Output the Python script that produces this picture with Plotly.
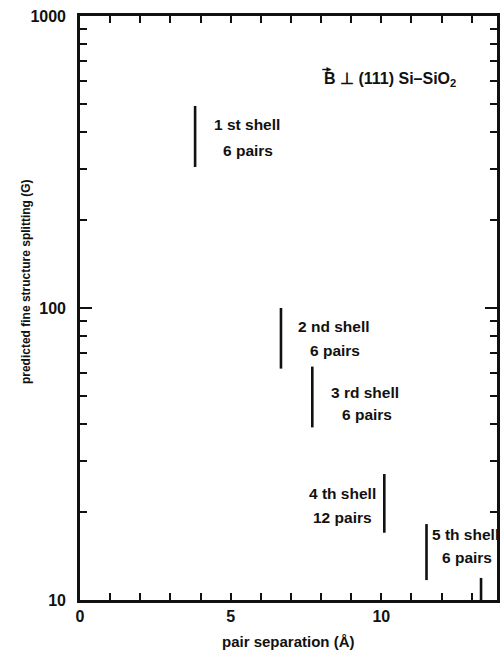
import plotly.graph_objects as go

# ---- data ----
shell_labels = ["1 st shell", "2 nd shell", "3 rd shell", "4 th shell", "5 th shell"]
pair_labels = ["6 pairs", "6 pairs", "6 pairs", "12 pairs", "6 pairs"]
separation_A = [3.82, 6.67, 7.71, 10.1, 11.5, 13.31]
split_min_G = [304, 62, 39, 17, 11.7, 10]
split_max_G = [492, 100, 63, 27, 18.2, 11.9]

y_major = [10, 100, 1000]
y_minor = [m * d for d in (10, 100) for m in range(2, 10)]

# label positions (x in Å, y in log10 G) – layout only
shell_lab_pos = [(4.38, 2.630), (7.18, 1.935), (8.27, 1.712), (7.55, 1.366), (11.63, 1.223)]
pair_lab_pos = [(4.68, 2.538), (7.58, 1.853), (8.63, 1.634), (7.68, 1.281), (11.96, 1.144)]

FONT = "Liberation Sans, Arial, Helvetica, sans-serif"
INK = "#111111"
LBL = 15.5

xs, ys = [], []
for x, lo, hi in zip(separation_A, split_min_G, split_max_G):
    xs += [x, x, None]
    ys += [lo, hi, None]

fig = go.Figure()
fig.add_trace(go.Scatter(x=xs, y=ys, mode="lines",
                         line=dict(color=INK, width=2.6),
                         hoverinfo="skip", showlegend=False, cliponaxis=False))

annotations = []
for (x, y), t in zip(shell_lab_pos, shell_labels):
    annotations.append(dict(x=x, y=y, xref="x", yref="y", text=t, showarrow=False,
                            xanchor="left", yanchor="middle",
                            font=dict(family=FONT, size=LBL, color=INK, weight="bold")))
for (x, y), t in zip(pair_lab_pos, pair_labels):
    annotations.append(dict(x=x, y=y, xref="x", yref="y", text=t, showarrow=False,
                            xanchor="left", yanchor="middle",
                            font=dict(family=FONT, size=LBL, color=INK, weight="bold")))
# title-like label inside plot
annotations.append(dict(x=8.04, y=2.781, xref="x", yref="y",
                        text="B \u22a5 (111) Si\u2013SiO<sub>2</sub>", showarrow=False,
                        xanchor="left", yanchor="middle",
                        font=dict(family=FONT, size=16, color=INK, weight="bold")))
# axis titles
annotations.append(dict(x=-0.131, y=0.545, xref="paper", yref="paper",
                        text="predicted fine structure splitting (G)", textangle=-90,
                        showarrow=False, xanchor="center", yanchor="middle",
                        font=dict(family=FONT, size=12, color=INK, weight="bold")))
annotations.append(dict(x=0.5, y=-0.087, xref="paper", yref="paper",
                        text="pair separation (\u00c5)", showarrow=False,
                        xanchor="center", yanchor="bottom", borderpad=0,
                        font=dict(family=FONT, size=15, color=INK, weight="bold")))

# small vector arrow over the "B" (paper coordinates)
def px_x(p):
    return (p - 80) / 420.0

def px_y(p):
    return (600 - p) / 584.0

ARROW_Y = 69.5
shapes = [
    dict(type="line", xref="paper", yref="paper",
         x0=px_x(324), x1=px_x(330), y0=px_y(ARROW_Y), y1=px_y(ARROW_Y),
         line=dict(color=INK, width=1.4)),
    dict(type="path", xref="paper", yref="paper",
         path=f"M {px_x(333)},{px_y(ARROW_Y)} L {px_x(328.5)},{px_y(ARROW_Y - 2.1)} "
              f"L {px_x(328.5)},{px_y(ARROW_Y + 2.1)} Z",
         fillcolor=INK, line=dict(color=INK, width=0.5)),
]

fig.update_layout(
    width=500, height=652,
    margin=dict(l=80, r=0, t=16, b=52),
    paper_bgcolor="white", plot_bgcolor="white",
    annotations=annotations, shapes=shapes,
    xaxis=dict(range=[0, 13.84], tickmode="array", tickvals=[0, 5, 10],
               ticks="inside", ticklen=7, tickwidth=1.5, tickcolor=INK,
               minor=dict(tickmode="linear", tick0=0, dtick=1, ticks="inside",
                          ticklen=7, tickwidth=1.5, tickcolor=INK),
               showline=True, linewidth=2.6, linecolor=INK, mirror="ticks",
               showgrid=False, zeroline=False, ticklabelstandoff=0,
               tickfont=dict(family=FONT, size=16, color=INK, weight="bold")),
    yaxis=dict(type="log", range=[1, 3], tickmode="array", tickvals=y_major,
               ticktext=[str(v) for v in y_major],
               ticks="inside", ticklen=12, tickwidth=1.5, tickcolor=INK,
               minor=dict(tickmode="array", tickvals=y_minor, ticks="inside",
                          ticklen=7, tickwidth=1.5, tickcolor=INK),
               showline=True, linewidth=2.6, linecolor=INK, mirror="ticks",
               showgrid=False, zeroline=False, ticklabelstandoff=8,
               tickfont=dict(family=FONT, size=16, color=INK, weight="bold")),
)

fig.write_html("out.html")
